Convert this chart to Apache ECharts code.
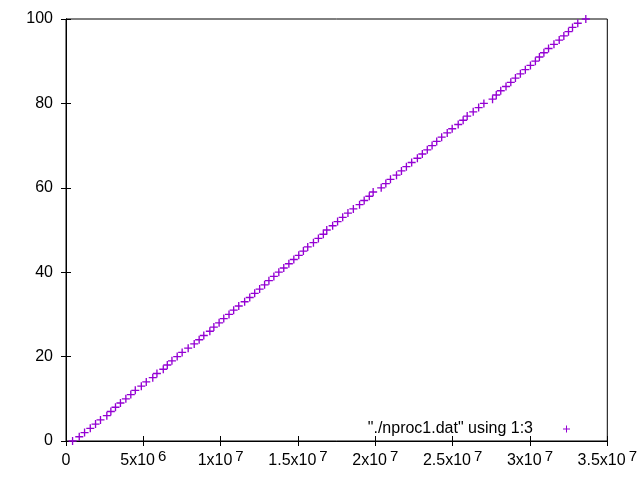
<!DOCTYPE html>
<html>
<head>
<meta charset="utf-8">
<script src="https://cdn.jsdelivr.net/npm/echarts@6/dist/echarts.min.js"></script>
<style>
  html, body { margin: 0; padding: 0; background: #fff; }
  #chart { width: 640px; height: 480px; }
</style>
</head>
<body>
<div id="chart"></div>
<script>
// Column 1 (x) values
const xValues = [
  425000, 857000, 1200000, 1570000, 1910000, 2230000, 2640000, 2900000, 3200000, 3520000,
  3870000, 4190000, 4480000, 4870000, 5190000, 5610000, 5880000, 6290000, 6550000, 6850000,
  7190000, 7510000, 7900000, 8290000, 8610000, 8910000, 9300000, 9560000, 9900000, 10200000,
  10540000, 10840000, 11170000, 11550000, 11880000, 12200000, 12520000, 12840000, 13120000, 13440000,
  13760000, 14080000, 14410000, 14730000, 15050000, 15350000, 15630000, 16000000, 16320000, 16640000,
  16860000, 17240000, 17560000, 17890000, 18230000, 18580000, 18980000, 19280000, 19610000, 19860000,
  20380000, 20680000, 20980000, 21370000, 21690000, 22010000, 22350000, 22720000, 23040000, 23360000,
  23670000, 23970000, 24290000, 24650000, 24970000, 25360000, 25680000, 25940000, 26330000, 26680000,
  27020000, 27580000, 27820000, 28110000, 28450000, 28760000, 29060000, 29380000, 29700000, 30030000,
  30350000, 30610000, 30900000, 31200000, 31550000, 31890000, 32190000, 32490000, 32750000, 33090000,
  33610000
];
// Column 3 (y) values
const yValues = [
  0, 1, 2, 3, 4, 5, 6, 7, 8, 9,
  10, 11, 12, 13, 14, 15, 16, 17, 18, 19,
  20, 21, 22, 23, 24, 25, 26, 27, 28, 29,
  30, 31, 32, 33, 34, 35, 36, 37, 38, 39,
  40, 41, 42, 43, 44, 45, 46, 47, 48, 49,
  50, 51, 52, 53, 54, 55, 56, 57, 58, 59,
  60, 61, 62, 63, 64, 65, 66, 67, 68, 69,
  70, 71, 72, 73, 74, 75, 76, 77, 78, 79,
  80, 81, 82, 83, 84, 85, 86, 87, 88, 89,
  90, 91, 92, 93, 94, 95, 96, 97, 98, 99,
  100
];
const seriesName = '"./nproc1.dat" using 1:3';

// Tick labels
const xTickValues = [0, 5000000, 10000000, 15000000, 20000000, 25000000, 30000000, 35000000];
const xTickMantissa = ['0', '5x10', '1x10', '1.5x10', '2x10', '2.5x10', '3x10', '3.5x10'];
const xTickExponent = ['', '6', '7', '7', '7', '7', '7', '7'];
const yTickValues = [0, 20, 40, 60, 80, 100];
const yTickLabels = ['0', '20', '40', '60', '80', '100'];

const FONT = 'Liberation Sans';
const PURPLE = '#9400d3';
const PLUS = 'path://M0,6.25H6.25V0H8.75V6.25H15V8.75H8.75V15H6.25V8.75H0Z';
const PLUS_THIN = 'path://M0,6H6V0H8V6H14V8H8V14H6V8H0Z';

const points = xValues.map((x, i) => [x, yValues[i]]);

function xLabel(value) {
  const i = xTickValues.indexOf(value);
  if (i < 0) return '';
  if (!xTickExponent[i]) return '{m|' + xTickMantissa[i] + '}';
  return '{m|' + xTickMantissa[i] + '}{s|' + xTickExponent[i] + '}';
}
function yLabel(value) {
  const i = yTickValues.indexOf(value);
  return i < 0 ? '' : yTickLabels[i];
}

const axisLineStyle = { show: true, lineStyle: { color: '#000', width: 1 } };
const tickStyle = { show: true, inside: true, length: 5, lineStyle: { color: '#000', width: 1 } };

const chart = echarts.init(document.getElementById('chart'), null, { renderer: 'canvas' });
chart.setOption({
  animation: false,
  backgroundColor: '#fff',
  textStyle: { fontFamily: FONT },
  grid: { left: 66, right: 31, top: 19, bottom: 39, containLabel: false,
          show: true, borderColor: '#000', borderWidth: 1 },
  legend: {
    show: true,
    right: 65,
    top: 416,
    align: 'right',
    itemWidth: 7,
    itemHeight: 7,
    data: [{ name: seriesName, icon: PLUS_THIN }],
    textStyle: { fontFamily: FONT, fontSize: 16, color: '#000', padding: [0, 25, 0, 0] }
  },
  xAxis: [
    {
      type: 'value', position: 'bottom', min: 0, max: 35000000, interval: 5000000,
      axisLine: axisLineStyle, axisTick: tickStyle, splitLine: { show: false },
      axisLabel: {
        show: true, margin: 9, color: '#000', fontFamily: FONT, fontSize: 16,
        lineHeight: 22, showMinLabel: true, showMaxLabel: true, hideOverlap: false,
        formatter: xLabel,
        rich: {
          m: { fontFamily: FONT, fontSize: 16, color: '#000', lineHeight: 22 },
          s: { fontFamily: FONT, fontSize: 15, color: '#000', lineHeight: 22, padding: [0, 0, 8, 3] }
        }
      }
    },
    {
      type: 'value', position: 'top', min: 0, max: 35000000, interval: 5000000,
      axisLine: axisLineStyle, axisTick: tickStyle, splitLine: { show: false },
      axisLabel: { show: false }
    }
  ],
  yAxis: [
    {
      type: 'value', position: 'left', min: 0, max: 100, interval: 20,
      axisLine: axisLineStyle, axisTick: tickStyle, splitLine: { show: false },
      axisLabel: { show: true, margin: 13, color: '#000', fontFamily: FONT, fontSize: 16,
                   formatter: yLabel, showMinLabel: true, showMaxLabel: true }
    },
    {
      type: 'value', position: 'right', min: 0, max: 100, interval: 20,
      axisLine: axisLineStyle, axisTick: tickStyle, splitLine: { show: false },
      axisLabel: { show: false }
    }
  ],
  series: [
    {
      name: seriesName,
      type: 'scatter',
      xAxisIndex: 0,
      yAxisIndex: 0,
      symbol: PLUS,
      symbolSize: 8,
      itemStyle: { color: PURPLE, opacity: 1 },
      clip: true,
      data: points
    }
  ]
});
</script>
</body>
</html>
